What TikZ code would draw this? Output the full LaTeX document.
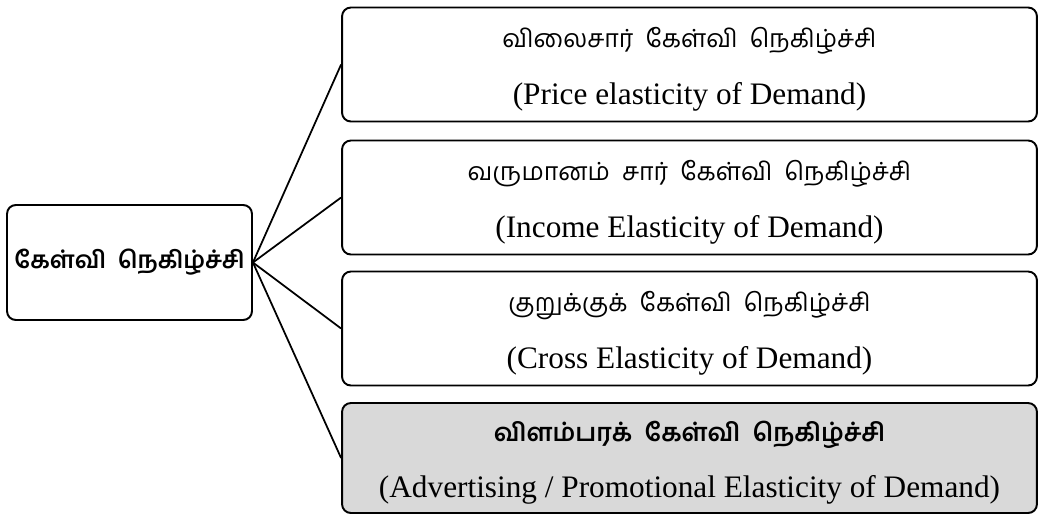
\documentclass[tikz,border=0pt]{standalone}
\usepackage{fontspec}
\setmainfont{Liberation Serif}
\newfontfamily\tamil[Script=Tamil]{Hind Madurai}
\usetikzlibrary{arrows}
\tikzset{
    box/.style={rectangle,rounded corners=5pt,draw,line width=1.1pt,minimum width=13.9cm,minimum height=2.28cm,align=center,font=\fontsize{17.8}{32}\selectfont},
    edge/.style={line width=1pt}
    }

\begin{document}
\begin{tikzpicture}[x=0.02cm,y=-0.02cm]
    \useasboundingbox (0,0) rectangle (1038,514);

        % boxes
        \node[box, minimum width=4.9cm, minimum height=2.3cm, font=\tamil\bfseries\fontsize{13.6}{20}\selectfont] (root) at (129.5,262.5) {கேள்வி\ \ நெகிழ்ச்சி};
        \node[box] (price) at (689.5,64.5) {{\tamil\fontsize{14.2}{32}\selectfont\rule{0pt}{17pt}விலைசார்\ \ கேள்வி\ \ நெகிழ்ச்சி}\\(Price elasticity of Demand)};
        \node[box] (income) at (689.5,197.5) {{\tamil\fontsize{14.2}{32}\selectfont\rule{0pt}{17pt}வருமானம்\ \ சார்\ \ கேள்வி\ \ நெகிழ்ச்சி}\\(Income Elasticity of Demand)};
        \node[box] (cross) at (689.5,328.5) {{\tamil\fontsize{14.2}{32}\selectfont\rule{0pt}{17pt}குறுக்குக்\ \ கேள்வி\ \ நெகிழ்ச்சி}\\(Cross Elasticity of Demand)};
        \node[box, fill=black!15, minimum height=2.2cm] (advert) at (689.5,458) {{\tamil\bfseries\fontsize{14.2}{32}\selectfont\rule{0pt}{17pt}விளம்பரக்\ \ கேள்வி\ \ நெகிழ்ச்சி}\\(Advertising / Promotional Elasticity of Demand)};

        %edges
        \draw[edge] (root.east) -- (price.west);
        \draw[edge] (root.east) -- (income.west);
        \draw[edge] (root.east) -- (cross.west);
        \draw[edge] (root.east) -- (advert.west);
    \end{tikzpicture}
\end{document}
